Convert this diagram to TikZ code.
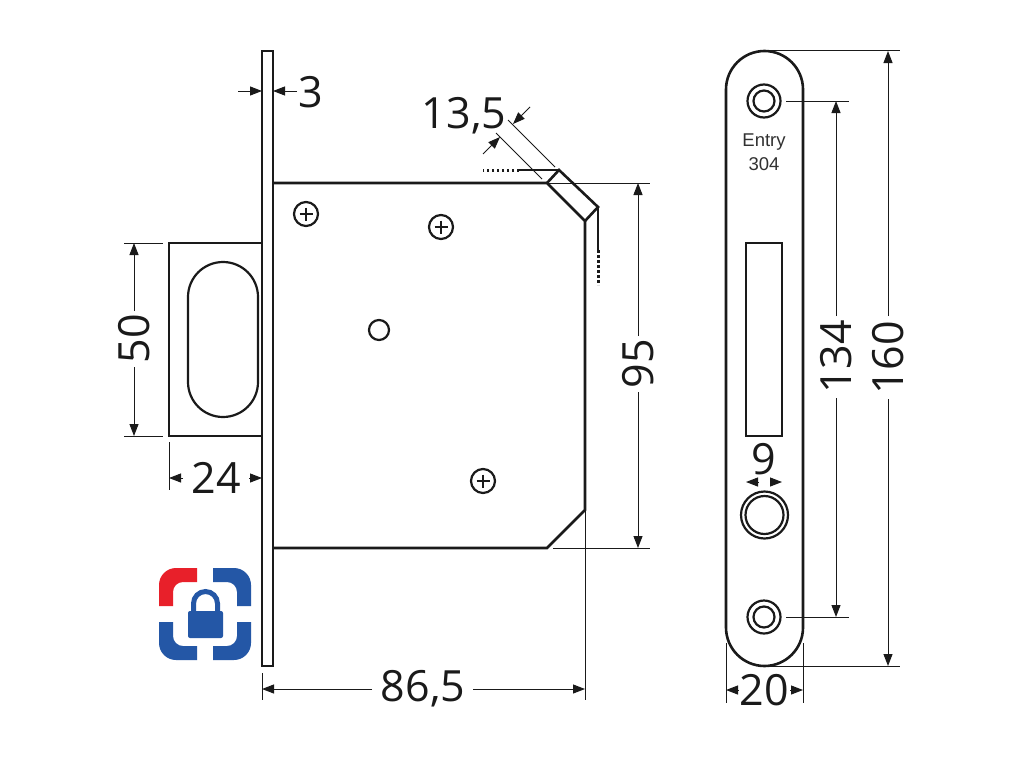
\documentclass[tikz,border=0pt]{standalone}
\usepackage{fontspec}
\setmainfont{Open Sans}
\newfontfamily\labelfont{Liberation Sans}
\usetikzlibrary{arrows.meta}
\definecolor{logored}{HTML}{E8202A}
\definecolor{logoblue}{HTML}{2457A6}
\definecolor{ink}{HTML}{1A1A1A}
\tikzset{
  heavy/.style={draw=ink,line width=2.6pt,line join=miter},
  oval/.style={draw=ink,line width=2.2pt},
  thin line/.style={draw=ink,line width=1pt},
  dimarrow/.style={draw=ink,line width=1pt,-{Triangle[length=12pt,width=9pt]}},
  dimtext/.style={font=\fontsize{43}{43}\selectfont,text=ink,inner sep=0pt},
  platetext/.style={font=\labelfont\fontsize{18.5}{19}\selectfont,text=ink!90,inner sep=0pt},
  dots/.style={draw=ink,line width=3pt,dash pattern=on 2.5pt off 2.5pt},
  screwring/.style={draw=ink,line width=2.2pt,fill=white},
  logopart/.style={fill=logoblue,draw=none},
}
\begin{document}
\begin{tikzpicture}[x=1pt,y=-1pt]
\useasboundingbox[fill=white] (0,0) rectangle (1024,768);

% --- thin extension lines
\draw[thin line] (124,243) -- (163,243);
\draw[thin line] (124,436) -- (163,436);
\draw[thin line] (169,442) -- (169,490);
\draw[thin line] (262,673) -- (262,700);
\draw[thin line] (585,510) -- (585,700);
\draw[thin line] (547,183) -- (650,183);
\draw[thin line] (553,548) -- (650,548);
\draw[thin line] (508,120) -- (555,167);
\draw[thin line] (496,133) -- (542,179);
\draw[thin line] (764,51) -- (900,51);
\draw[thin line] (764,666) -- (900,666);
\draw[thin line] (786,101) -- (849,101);
\draw[thin line] (786,617) -- (849,617);
\draw[thin line] (746,442) -- (746,495);
\draw[thin line] (782,442) -- (782,495);
\draw[thin line] (726,643) -- (726,703);
\draw[thin line] (803,643) -- (803,703);

% --- side view: faceplate, latch, body
\draw[heavy,fill=white] (169,243) rectangle (262,436);
\draw[oval] (188,297) arc[start angle=180,end angle=360,radius=35]
  -- (258,382) arc[start angle=0,end angle=180,radius=35] -- cycle;
\draw[heavy,fill=white] (262,51) rectangle (273,666);
\draw[heavy] (273,183) -- (547,183) -- (585,221) -- (585,510) -- (547,548) -- (273,548);
\draw[heavy] (547,183) -- (559,170) -- (598,207) -- (585,221);
\draw[heavy] (559,170) -- (519,170);
\draw[dots] (519,170) -- (483,170);
\draw[heavy] (598,207) -- (598,250);
\draw[dots] (598,250) -- (598,285);

% --- screws on the body
\foreach \n/\cx/\cy in {a/306/214,b/441/227,c/483/481}{
  \node[circle,draw=ink,line width=2.2pt,minimum size=24pt,inner sep=0pt] (screw\n) at (\cx,\cy) {};
  \draw[ink,line width=2.2pt] (\cx-6.5,\cy) -- (\cx+6.5,\cy) (\cx,\cy-6.5) -- (\cx,\cy+6.5);
}
\node[circle,draw=ink,line width=2.2pt,minimum size=20pt,inner sep=0pt] (pin) at (379,330) {};

% --- front view
\draw[heavy,fill=white] (726,89.5) arc[start angle=180,end angle=360,radius=38.5]
  -- (803,627.5) arc[start angle=0,end angle=180,radius=38.5] -- cycle;
\draw[heavy] (746,243) rectangle (782,436);
\foreach \n/\cy in {t/101,b/617}{
  \node[circle,screwring,minimum size=33pt,inner sep=0pt] (ring\n) at (764,\cy) {};
  \node[circle,screwring,minimum size=21pt,inner sep=0pt] at (764,\cy) {};
}
\node[circle,screwring,minimum size=47pt,inner sep=0pt] (bighole) at (764.5,515) {};
\node[circle,screwring,minimum size=38pt,inner sep=0pt] at (764.5,515) {};
\node[platetext] (entry) at (764,142) {Entry};
\node[platetext] (model) at (764,164) {304};

\draw[thin line] (786,101) -- (803,101);
\draw[thin line] (786,617) -- (803,617);

% --- dimension labels
\node[dimtext] (d3) at (311,92) {3};
\node[dimtext] (d135) at (464,116) {13,5};
\node[dimtext,rotate=90] (d50) at (134,339) {50};
\node[dimtext] (d24) at (216,478) {24};
\node[dimtext] (d865) at (423,689) {86,5};
\node[dimtext,rotate=90] (d95) at (638,364) {95};
\node[dimtext] (d9) at (764,459) {9};
\node[dimtext,rotate=90] (d134) at (836,357) {134};
\node[dimtext,rotate=90] (d160) at (888,358) {160};
\node[dimtext] (d20) at (764,690) {20};

% --- dimension arrows
\draw[dimarrow] (238,91) -- (262,91);
\draw[dimarrow] (297,91) -- (273,91);
\draw[dimarrow] (530,107) -- (513,124);
\draw[dimarrow] (483,154) -- (500,137);
\draw[dimarrow] (134,311) -- (134,243);
\draw[dimarrow] (134,367) -- (134,436);
\draw[dimarrow] (183,478) -- (169,478);
\draw[dimarrow] (249,478) -- (262,478);
\draw[dimarrow] (372,689) -- (262,689);
\draw[dimarrow] (473,689) -- (585,689);
\draw[dimarrow] (638,336) -- (638,183);
\draw[dimarrow] (638,392) -- (638,548);
\draw[dimarrow] (759,482) -- (746,482);
\draw[dimarrow] (770,482) -- (782,482);
\draw[dimarrow] (836,316) -- (836,101);
\draw[dimarrow] (836,398) -- (836,617);
\draw[dimarrow] (888,316) -- (888,51);
\draw[dimarrow] (888,399) -- (888,666);
\draw[dimarrow] (739,690) -- (726,690);
\draw[dimarrow] (790,690) -- (803,690);

% --- logo
\fill[logored] (197,568) -- (176,568) arc[start angle=270,end angle=180,radius=17] -- (159,606) -- (173,606)
  -- (173,592) arc[start angle=180,end angle=270,radius=10] -- (197,582) -- cycle;
\fill[logopart] (213,568) -- (234,568) arc[start angle=-90,end angle=0,radius=17] -- (251,606) -- (237,606)
  -- (237,592) arc[start angle=0,end angle=-90,radius=10] -- (213,582) -- cycle;
\fill[logopart] (197,660) -- (176,660) arc[start angle=90,end angle=180,radius=17] -- (159,622) -- (173,622)
  -- (173,636) arc[start angle=180,end angle=90,radius=10] -- (197,646) -- cycle;
\fill[logopart] (213,660) -- (234,660) arc[start angle=90,end angle=0,radius=17] -- (251,622) -- (237,622)
  -- (237,636) arc[start angle=0,end angle=90,radius=10] -- (213,646) -- cycle;
\fill[logopart,rounded corners=2pt] (188,611) rectangle (223,638);
\draw[logoblue,line width=5pt] (193.5,612) -- (193.5,603.5) arc[start angle=180,end angle=360,radius=12] -- (217.5,612);
\end{tikzpicture}
\end{document}
